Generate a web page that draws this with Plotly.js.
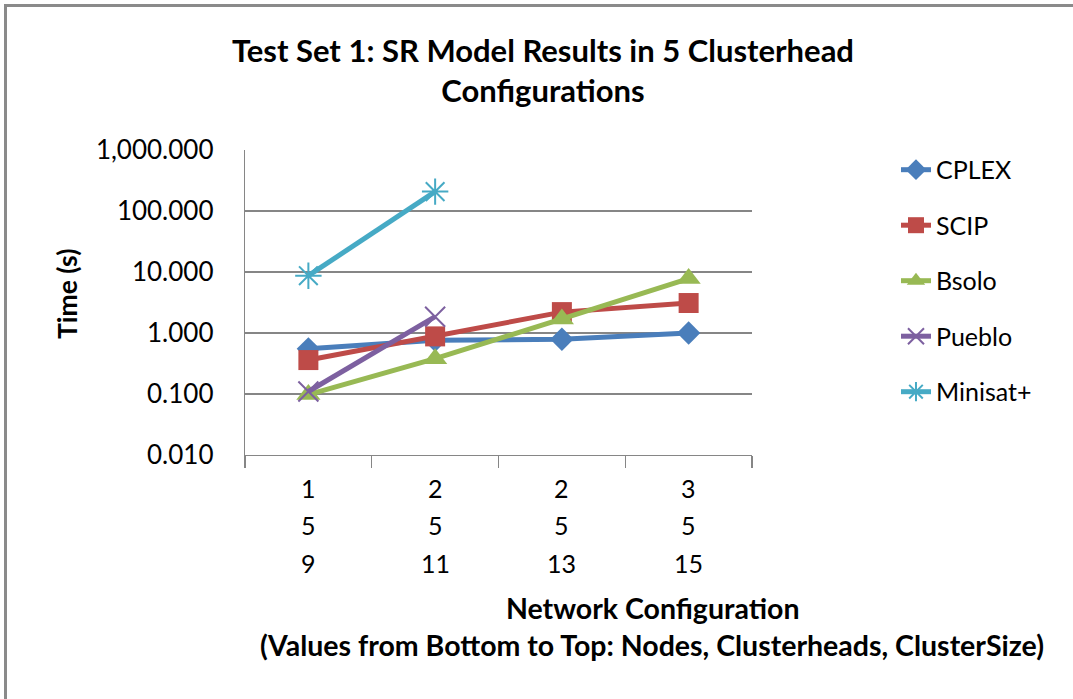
<!DOCTYPE html>
<html>
<head>
<meta charset="utf-8">
<script src="https://cdn.plot.ly/plotly-3.0.1.min.js"></script>
<style>
  html, body { margin: 0; padding: 0; background: #ffffff; overflow: hidden; }
  #chart { width: 1073px; height: 699px; position: relative; }
  #frame { position: absolute; left: 4px; top: 4px; width: 1066px; height: 692px;
           border-left: 3px solid #8a8a8a; border-top: 3px solid #8a8a8a; pointer-events: none; }
</style>
</head>
<body>
<div id="chart"></div>
<div id="frame"></div>
<script>
// Network configuration rows (from bottom to top: Nodes, Clusterheads, ClusterSize)
const nodes = [9, 11, 13, 15];
const clusterheads = [5, 5, 5, 5];
const clusterSize = [1, 2, 2, 3];
const categories = clusterSize.map((c, i) => c + ' / ' + clusterheads[i] + ' / ' + nodes[i]);

// Time (s), log scale
const cplex   = [0.55, 0.76, 0.79, 1.0];
const scip    = [0.36, 0.88, 2.2, 3.1];
const bsolo   = [0.098, 0.38, 1.7, 7.8];
const pueblo  = [0.11, 1.85, null, null];
const minisat = [8.7, 208, null, null];

const seriesNames = ['CPLEX', 'SCIP', 'Bsolo', 'Pueblo', 'Minisat+'];
const seriesData = [cplex, scip, bsolo, pueblo, minisat];
const colors = ['#4A7EBB', '#BE4B48', '#98B954', '#7D60A0', '#46AAC5'];
const symbols = ['diamond', 'square', 'triangle-up', 'x-thin-open', 'asterisk-open'];
const sizes = [18, 20, 21, 20, 22];

const FONT = 'Lato, "Liberation Sans", sans-serif';

const traces = seriesNames.map((name, i) => ({
  type: 'scatter',
  mode: 'lines+markers',
  name: name,
  legendgroup: 'g' + i,
  x: categories,
  y: seriesData[i],
  connectgaps: false,
  line: { color: colors[i], width: 5 },
  marker: {
    symbol: symbols[i],
    size: sizes[i],
    color: colors[i],
    line: { color: colors[i], width: (i >= 3 ? 2 : 0) }
  }
}));

const rowY = [-0.108, -0.2295, -0.354];
const rows = [clusterSize, clusterheads, nodes];
const annotations = [];
rows.forEach((row, r) => {
  row.forEach((v, i) => {
    annotations.push({
      x: categories[i], xref: 'x', y: rowY[r], yref: 'paper',
      text: String(v), showarrow: false, xanchor: 'center', yanchor: 'middle',
      font: { family: FONT, size: 25, color: '#000000' }
    });
  });
});
annotations.push({
  x: 0.803, xref: 'paper', y: -0.5016, yref: 'paper', showarrow: false,
  text: '<b>Network Configuration</b>', xanchor: 'center', yanchor: 'middle',
  font: { family: FONT, size: 28.5, color: '#000000' }
});
annotations.push({
  x: 0.803, xref: 'paper', y: -0.623, yref: 'paper', showarrow: false,
  text: '<b>(Values from Bottom to Top: Nodes, Clusterheads, ClusterSize)</b>',
  xanchor: 'center', yanchor: 'middle',
  font: { family: FONT, size: 28.5, color: '#000000' }
});
annotations.push({
  x: -0.351, xref: 'paper', y: 0.528, yref: 'paper', showarrow: false,
  text: '<b>Time (s)</b>', textangle: -90, xanchor: 'center', yanchor: 'middle',
  font: { family: FONT, size: 26.5, color: '#000000' }
});

const layout = {
  width: 1073, height: 699,
  paper_bgcolor: '#ffffff', plot_bgcolor: '#ffffff',
  margin: { l: 245, r: 321, t: 150, b: 244, autoexpand: false },
  title: {
    text: '<b>Test Set 1: SR Model Results in 5 Clusterhead<br>Configurations</b>',
    x: 0.506, xanchor: 'center', xref: 'container',
    y: 0.912, yanchor: 'middle', yref: 'container',
    font: { family: FONT, size: 31, color: '#000000' }
  },
  showlegend: true,
  legend: {
    x: 1.284, xanchor: 'left', y: 1.01, yanchor: 'top',
    traceorder: 'grouped', tracegroupgap: 20,
    font: { family: FONT, size: 25, color: '#000000' },
    bgcolor: 'rgba(0,0,0,0)'
  },
  xaxis: {
    type: 'category',
    categoryorder: 'array', categoryarray: categories,
    range: [-0.5, categories.length - 0.5],
    showticklabels: false,
    tickson: 'boundaries',
    ticks: 'outside', ticklen: 12, tickcolor: '#868686', tickwidth: 1.3,
    showline: true, linecolor: '#868686', linewidth: 1.3,
    showgrid: false, zeroline: false, fixedrange: true
  },
  yaxis: {
    type: 'log',
    range: [-2, 3],
    dtick: 1,
    tickformat: ',.3f',
    ticks: '', ticklen: 0,
    showline: true, linecolor: '#868686', linewidth: 1.3,
    showgrid: true, gridcolor: '#868686', gridwidth: 1.3,
    zeroline: false, fixedrange: true,
    tickfont: { family: FONT, size: 26, color: '#000000' },
    ticklabelstandoff: 25
  },
  annotations: annotations
};

Plotly.newPlot('chart', traces, layout, { displayModeBar: false, staticPlot: true });
</script>
</body>
</html>
